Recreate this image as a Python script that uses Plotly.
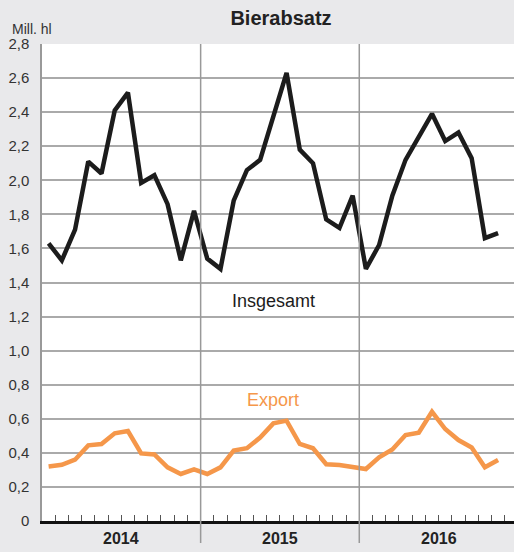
import plotly.graph_objects as go

# monthly beer sales, Jan 2014 .. Nov 2016 (mill. hl)
insgesamt = [1.63, 1.53, 1.71, 2.11, 2.04, 2.41, 2.515, 1.985, 2.03, 1.86, 1.53, 1.82,
             1.54, 1.48, 1.88, 2.06, 2.12, 2.37, 2.63, 2.18, 2.10, 1.77, 1.72, 1.91,
             1.48, 1.62, 1.91, 2.12, 2.255, 2.39, 2.23, 2.28, 2.13, 1.66, 1.69]
export = [0.32, 0.33, 0.36, 0.444, 0.452, 0.515, 0.528, 0.397, 0.391, 0.315, 0.276, 0.303,
          0.276, 0.315, 0.413, 0.427, 0.49, 0.573, 0.589, 0.452, 0.427, 0.333, 0.329, 0.319,
          0.305, 0.374, 0.42, 0.505, 0.518, 0.641, 0.54, 0.475, 0.432, 0.315, 0.358]
years = ["2014", "2015", "2016"]
y_ticks = [0, 0.2, 0.4, 0.6, 0.8, 1.0, 1.2, 1.4, 1.6, 1.8, 2.0, 2.2, 2.4, 2.6, 2.8]
y_labels = ["0", "0,2", "0,4", "0,6", "0,8", "1,0", "1,2", "1,4", "1,6", "1,8",
            "2,0", "2,2", "2,4", "2,6", "2,8"]

months = [i + 0.5 for i in range(len(insgesamt))]
FONT = "Arial, Liberation Sans, Helvetica, sans-serif"

fig = go.Figure()
fig.add_trace(go.Scatter(x=months, y=export, mode="lines",
                         line=dict(color="#f5974a", width=4.5), showlegend=False))
fig.add_trace(go.Scatter(x=months, y=insgesamt, mode="lines",
                         line=dict(color="#1c1c1c", width=4.5), showlegend=False))

fig.update_layout(
    width=514, height=552,
    margin=dict(l=42, r=0, t=44, b=31),
    paper_bgcolor="#e9e9eb", plot_bgcolor="white",
    font=dict(family=FONT, color="#333333"),
    title=dict(text="<b>Bierabsatz</b>", x=281 / 514, xanchor="center",
               y=1 - 18 / 552, yanchor="middle", font=dict(size=20, color="#222222")),
)
fig.update_xaxes(range=[0, 472 / 13.22], showgrid=False, zeroline=False, automargin=False,
                 tickvals=[m for m in range(1, 36) if m % 12 != 0],
                 ticks="inside", ticklen=6, tickwidth=1, tickcolor="#555555",
                 showticklabels=False, showline=True, linecolor="#111111", linewidth=3)
fig.update_yaxes(range=[0, 2.8], tickvals=y_ticks, ticktext=y_labels, automargin=False,
                 showgrid=True, gridcolor="#aaaaaa", gridwidth=1.5, zeroline=False,
                 showline=True, linecolor="#999999", linewidth=1.5,
                 ticks="", ticklabelstandoff=8, tickfont=dict(size=15, color="#333333"))

# year dividers reaching down into the label strip
for m in [12, 24]:
    fig.add_shape(type="line", xref="x", yref="paper", x0=m, x1=m, y0=-0.046, y1=1,
                  line=dict(color="#999999", width=1.5))

for i, yr in enumerate(years):
    fig.add_annotation(x=i * 12 + 6, y=-0.036, xref="x", yref="paper", text="<b>" + yr + "</b>",
                       showarrow=False, yanchor="middle", font=dict(size=16, color="#222222"))

fig.add_annotation(x=-32 / 472, y=(521 - 29) / 477, xref="paper", yref="paper", text="Mill. hl",
                   showarrow=False, xanchor="left", yanchor="middle", font=dict(size=14, color="#333333"))
fig.add_annotation(x=17.5, y=1.29, text="Insgesamt", showarrow=False,
                   font=dict(size=18, color="#1c1c1c"))
fig.add_annotation(x=17.5, y=0.71, text="Export", showarrow=False,
                   font=dict(size=18, color="#f5974a"))

# page body has a default margin; remove it so the figure fills the window
fig.write_html("out.html", config={"displayModeBar": False},
               post_script="document.body.style.margin='0';")
